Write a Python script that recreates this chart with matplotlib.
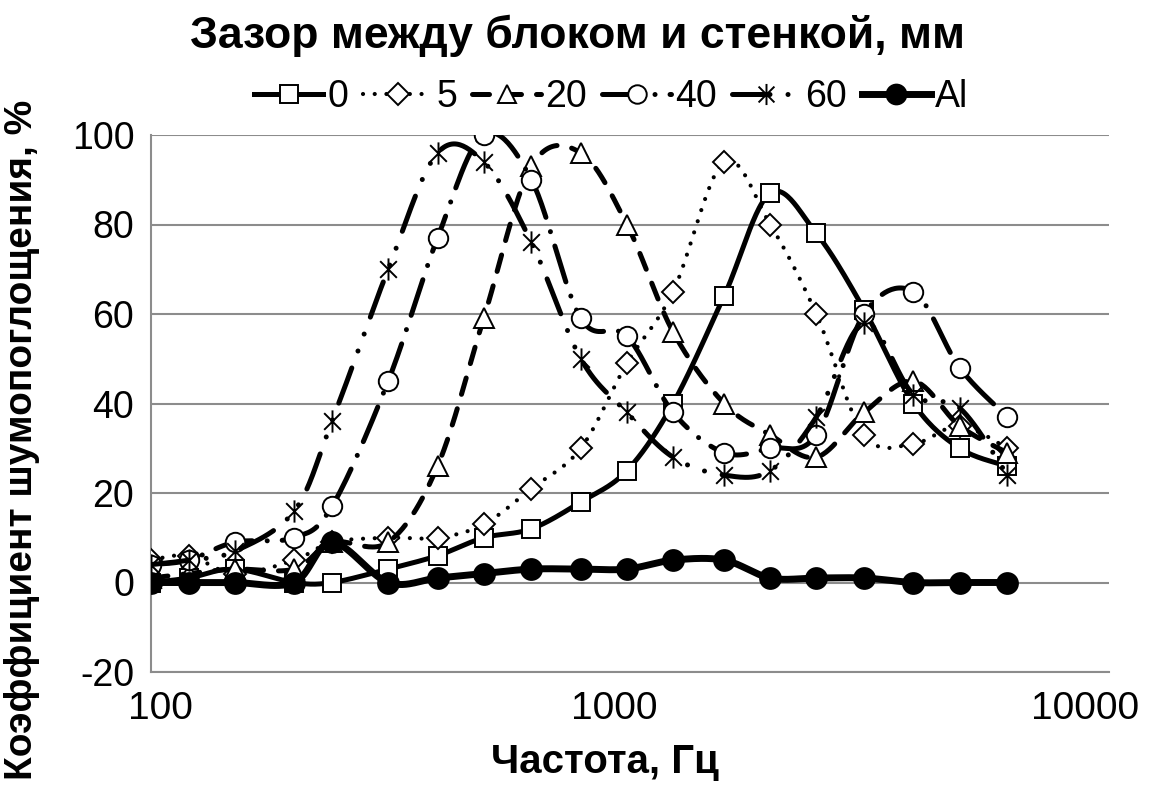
import numpy as np
import matplotlib
matplotlib.use('Agg')
import matplotlib.pyplot as plt
from matplotlib.path import Path
from matplotlib.lines import Line2D
from matplotlib.transforms import ScaledTranslation

plt.rcParams['font.family'] = ['Liberation Sans', 'DejaVu Sans']
plt.rcParams['axes.unicode_minus'] = False

# Frequencies, Hz
freq = [100, 120, 150, 200, 240, 315, 400, 500, 630, 800, 1000,
        1250, 1600, 2000, 2500, 3150, 4000, 5000, 6300]

# Noise absorption coefficient, % (gap between block and wall, mm)
gap_0 = [0, 1, 3, 0, 0, 3, 6, 10, 12, 18, 25, 40, 64, 87, 78, 61, 40, 30, 26]
gap_5 = [5, 6, 2, 5, 9, 10, 10, 13, 21, 30, 49, 65, 94, 80, 60, 33, 31, 35, 30]
gap_20 = [1, 2, 3, 3, 9, 9, 26, 59, 93, 96, 80, 56, 40, 33, 28, 38, 45, 35, 29]
gap_40 = [4, 5, 9, 10, 17, 45, 77, 100, 90, 59, 55, 38, 29, 30, 33, 60, 65, 48, 37]
gap_60 = [4, 5, 7, 16, 36, 70, 96, 94, 76, 50, 38, 28, 24, 25, 37, 58, 42, 39, 24]
gap_al = [0, 0, 0, 0, 9, 0, 1, 2, 3, 3, 3, 5, 5, 1, 1, 1, 0, 0, 0]

labels = ['0', '5', '20', '40', '60', 'Al']


def smooth(xs, ys, n=30):
    # Excel-like smoothed line (Bezier through the points), in log-x space
    u = np.log10(np.asarray(xs, float))
    v = np.asarray(ys, float)
    pu = np.r_[u[0], u, u[-1]]
    pv = np.r_[v[0], v, v[-1]]
    t = np.linspace(0, 1, n)[:, None]
    out_u, out_v = [], []
    for i in range(1, len(u)):
        p0 = np.array([pu[i - 1], pv[i - 1]])
        p1 = np.array([pu[i], pv[i]])
        p2 = np.array([pu[i + 1], pv[i + 1]])
        p3 = np.array([pu[i + 2], pv[i + 2]])
        c1 = p1 + (p2 - p0) / 6
        c2 = p2 - (p3 - p1) / 6
        b = ((1 - t) ** 3) * p1 + 3 * ((1 - t) ** 2) * t * c1 + 3 * (1 - t) * t ** 2 * c2 + t ** 3 * p2
        out_u.append(b[:, 0])
        out_v.append(b[:, 1])
    return 10 ** np.concatenate(out_u), np.concatenate(out_v)


# asterisk marker like in Excel: vertical bar + X
star = Path([(0, -1), (0, 1), (-0.75, -0.75), (0.75, 0.75), (-0.75, 0.75), (0.75, -0.75)],
            [Path.MOVETO, Path.LINETO, Path.MOVETO, Path.LINETO, Path.MOVETO, Path.LINETO])

styles = [
    dict(lw=3.6, ls='-', marker='s', ms=13, mfc='white'),
    dict(lw=3.0, ls=(0, (0.01, 2.8)), marker='D', ms=11.5, mfc='white'),
    dict(lw=3.6, ls=(0, (3.4, 3.0)), marker='^', ms=14, mfc='white'),
    dict(lw=3.6, ls=(0, (7.5, 3, 0.01, 3)), marker='o', ms=14, mfc='white'),
    dict(lw=3.6, ls=(0, (7.5, 3.6, 0.01, 3.6, 0.01, 3.6)), marker=star, ms=16, mfc='none'),
    dict(lw=5.0, ls='-', marker='o', ms=15, mfc='black'),
]
series = [gap_0, gap_5, gap_20, gap_40, gap_60, gap_al]

fig = plt.figure(figsize=(11.58, 7.91), dpi=100)
ax = fig.add_axes([151 / 1158, 1 - 672 / 791, (1109 - 151) / 1158, (672 - 135) / 791])

handles = []
for k, (vals, st) in enumerate(zip(series, styles)):
    sx, sy = smooth(freq, vals)
    z = 3 + k
    ax.plot(sx, sy, color='black', lw=st['lw'], ls=st['ls'],
            dash_capstyle='round', solid_capstyle='round', zorder=z)
    ax.plot(freq, vals, ls='none', marker=st['marker'], ms=st['ms'],
            mfc=st['mfc'], mec='black', mew=1.4, zorder=z + 0.5)
    handles.append(Line2D([], [], color='black', lw=st['lw'], ls=st['ls'],
                          dash_capstyle='round', marker=st['marker'], ms=st['ms'] * 0.95,
                          mfc=st['mfc'], mec='black', mew=1.4))

ax.set_xscale('log')
ax.set_xlim(100, 10300)
ax.set_ylim(-20, 100)
ax.set_xticks([100, 1000, 10000])
ax.set_xticklabels(['100', '1000', '10000'])
ax.xaxis.set_minor_locator(matplotlib.ticker.NullLocator())
ax.set_yticks(np.arange(-20, 101, 20))
ax.tick_params(length=0, labelsize=28, pad=12)
ax.tick_params(axis='y', labelsize=27)
ax.tick_params(axis='x', pad=14)
# nudge x tick labels to where they sit in the original
for lab, dx in zip(ax.get_xticklabels(), [9, -13, -18]):
    lab.set_transform(lab.get_transform() + ScaledTranslation(dx / 100, 0, fig.dpi_scale_trans))

ax.yaxis.grid(True, color='#8c8c8c', lw=1.5)
ax.set_axisbelow(True)
for s in ['top', 'right']:
    ax.spines[s].set_visible(False)
ax.spines['left'].set_color('#8c8c8c')
ax.spines['left'].set_linewidth(1.5)
ax.spines['bottom'].set_color('#8c8c8c')
ax.spines['bottom'].set_linewidth(1.5)

fig.text(605 / 1158, 1 - 762 / 791, 'Частота, Гц', ha='center', va='center',
         fontsize=29, fontweight='bold')
fig.text(22 / 1158, 1 - 440 / 791, 'Коэффициент шумопоглощения, %', rotation=90,
         ha='center', va='center', fontsize=28, fontweight='bold')
fig.text(577 / 1158, 1 - 36 / 791, 'Зазор между блоком и стенкой, мм', ha='center', va='center',
         fontsize=32, fontweight='bold')

fig.legend(handles, labels, loc='center', bbox_to_anchor=(611 / 1158, 1 - 97 / 791), ncol=6,
           frameon=False, fontsize=27, handlelength=1.85, handletextpad=0.1,
           columnspacing=0.4, numpoints=1)

fig.savefig('out.png', dpi=100)
